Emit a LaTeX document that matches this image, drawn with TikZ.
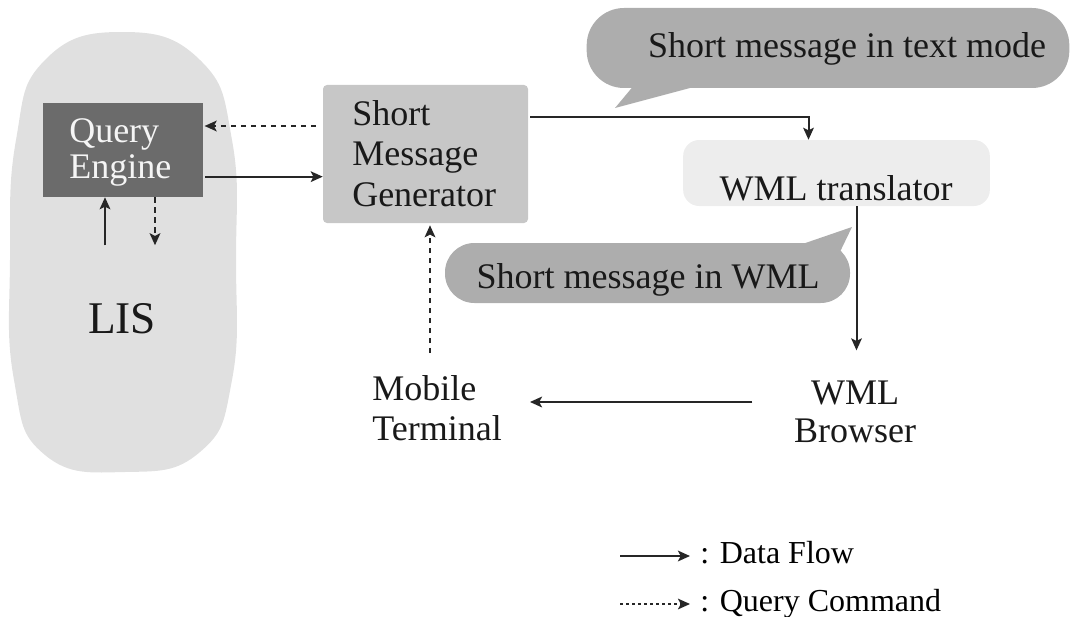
\documentclass[tikz,border=0pt]{standalone}
\usepackage{fontspec}
\setmainfont{Liberation Serif}
\usetikzlibrary{arrows.meta}
\definecolor{linec}{gray}{0.15}
\definecolor{lisc}{gray}{0.88}
\definecolor{qec}{gray}{0.42}
\definecolor{smgc}{gray}{0.78}
\definecolor{wtc}{gray}{0.93}
\definecolor{bubc}{gray}{0.68}
\tikzset{
  tipa/.tip={Stealth[length=9pt,width=8pt,inset=2pt]},
  dflow/.style={draw=linec, line width=1.5pt, -tipa},
  qflow/.style={draw=linec, line width=1.5pt, dash pattern=on 4pt off 3.5pt, -tipa},
  bigtxt/.style={font=\fontsize{27}{30.5}\selectfont, inner sep=0pt, text=black!90},
  legtxt/.style={font=\fontsize{24}{28}\selectfont, inner sep=0pt},
  panel/.style={draw=none, inner sep=0pt}
}
\begin{document}
\begin{tikzpicture}[x=0.75pt,y=-0.75pt]
\useasboundingbox (0,0) rectangle (1074,617);
% LIS cloud
\fill[lisc] plot[smooth cycle, tension=0.8] coordinates {(122,32) (200,60) (232,140) (236,260) (232,380) (200,452) (125,472) (45,455) (14,380) (10,260) (16,140) (45,60)};
\node[bigtxt, font=\fontsize{34}{38}\selectfont, anchor=base] (lis) at (122,333) {LIS};
% Query Engine
\node[panel, fill=qec, minimum width=120pt, minimum height=70.5pt] (qe) at (123,150) {};
\node[bigtxt, text=white!92!gray, align=left, anchor=north west, font=\fontsize{27}{27}\selectfont] (qet) at (69,118) {Query\\Engine};
% Short Message Generator
\node[panel, fill=smgc, rounded corners=3pt, minimum width=153.75pt, minimum height=103.5pt] (smg) at (425.5,154) {};
\node[bigtxt, align=left, anchor=north west] (smgt) at (352,100) {Short\\Message\\Generator};
% WML translator
\node[panel, fill=wtc, rounded corners=12pt, minimum width=230pt, minimum height=49.5pt] (wmltbg) at (836.5,173) {};
\node[bigtxt, anchor=base] (wmlt) at (836,200) {WML translator};
% bubbles
\node[panel, fill=bubc, rounded corners=28pt, minimum width=362pt, minimum height=60pt] (cb1) at (828,48) {};
\fill[bubc] (640,78) -- (615,108) -- (705,84) -- cycle;
\node[bigtxt, anchor=base] (cb1t) at (847,58) {Short message in text mode};
\node[panel, fill=bubc, rounded corners=22pt, minimum width=303.75pt, minimum height=45pt] (cb2) at (647.5,273) {};
\fill[bubc] (785,250) -- (852,227) -- (838,256) -- cycle;
\node[bigtxt, anchor=base] (cb2t) at (648,288) {Short message in WML};
% Mobile Terminal, WML Browser
\node[bigtxt, align=left, anchor=north west, font=\fontsize{27}{30}\selectfont] (mt) at (372,375) {Mobile\\Terminal};
\node[bigtxt, align=center, anchor=north, font=\fontsize{27}{28.5}\selectfont] (wmlb) at (855,381) {WML\\Browser};
% connectors
\coordinate (a1) at ([yshift=18pt]qe.east);
\draw[qflow, shorten <=5pt, shorten >=1pt] (a1 -| smg.west) -- (a1);
\coordinate (a2) at ([yshift=-20pt]qe.east);
\draw[dflow, shorten <=1.5pt] (a2) -- (a2 -| smg.west);
\coordinate (a3) at ([xshift=-13.5pt]qe.south);
\draw[dflow] ([yshift=-36pt]a3) -- (a3);
\coordinate (a4) at ([xshift=24pt]qe.south);
\draw[qflow] (a4) -- ([yshift=-36pt]a4);
\coordinate (a5) at ([yshift=28pt]smg.east);
\coordinate (a6) at ([xshift=-21pt]wmltbg.north);
\draw[dflow, shorten <=1.5pt] (a5) -| (a6);
\coordinate (a7) at ([xshift=15pt]wmltbg.south);
\coordinate (a8) at ([yshift=23pt]wmlb.north);
\draw[dflow] (a7) -- (a7 |- a8);
\coordinate (a9) at ([xshift=-77pt,yshift=-15.75pt]wmlb.north);
\draw[dflow, shorten >=21pt] (a9) -- (a9 -| mt.east);
\coordinate (a10) at ([xshift=43.5pt,yshift=16.5pt]mt.north west);
\draw[qflow, shorten >=1.5pt] (a10) -- (a10 |- smg.south);
% legend
\node[legtxt, anchor=base west] (leg1) at (700,563) {: Data Flow};
\node[legtxt, anchor=base west] (leg2) at (700,611) {: Query Command};
\coordinate (l1) at (620,556);
\coordinate (l2) at (620,604);
\draw[dflow, shorten >=7.5pt] (l1) -- (l1 -| leg1.west);
\draw[qflow, line width=1.2pt, dash pattern=on 2.5pt off 2pt, shorten >=7.5pt] (l2) -- (l2 -| leg2.west);
\end{tikzpicture}
\end{document}
